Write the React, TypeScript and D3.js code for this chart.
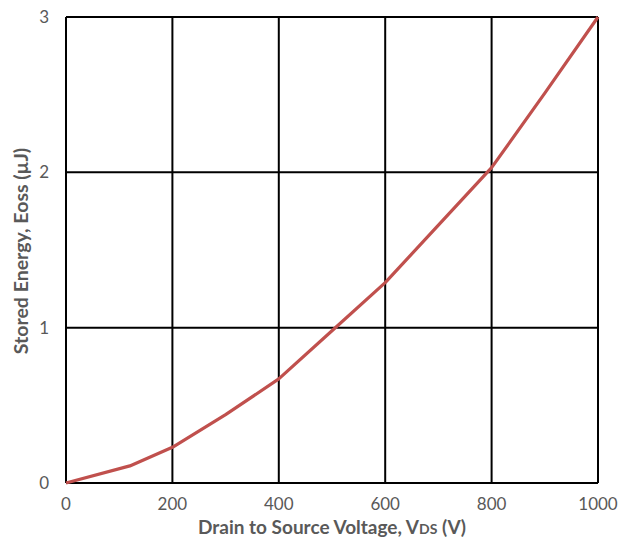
import React from "react";
import * as d3 from "d3";

const voltages = [0, 120, 200, 300, 400, 500, 600, 700, 800, 900, 1000];
const energy = [0, 0.11, 0.23, 0.44, 0.67, 0.98, 1.29, 1.66, 2.03, 2.51, 3.0];
const xTicks = [0, 200, 400, 600, 800, 1000];
const yTicks = [0, 1, 2, 3];

export default function App() {
  const W = 627, H = 540;
  const left = 66, right = 598, top = 17, bottom = 483;
  const x = d3.scaleLinear().domain([0, 1000]).range([left, right]);
  const y = d3.scaleLinear().domain([0, 3]).range([bottom, top]);
  const line = d3.line<number>().x((_, i) => x(voltages[i])).y((d) => y(d));
  const font = "Lato, 'Open Sans', sans-serif";
  return (
    <svg width={W} height={H} style={{ position: "absolute", left: 0, top: 0 }}>
      <rect width={W} height={H} fill="#fff" />
      {xTicks.map((t) => (
        <line key={"gx" + t} x1={x(t)} x2={x(t)} y1={top} y2={bottom} stroke="#000" strokeWidth={2} />
      ))}
      {yTicks.map((t) => (
        <line key={"gy" + t} x1={left} x2={right} y1={y(t)} y2={y(t)} stroke="#000" strokeWidth={2} />
      ))}
      <path d={line(energy) || ""} fill="none" stroke="#C0504D" strokeWidth={3.2} strokeLinejoin="round" />
      {xTicks.map((t) => (
        <text key={"tx" + t} x={x(t)} y={510} textAnchor="middle" fontFamily={font} fontSize={17} fill="#595959">{t}</text>
      ))}
      {yTicks.map((t) => (
        <text key={"ty" + t} x={49} y={y(t) + 6} textAnchor="end" fontFamily={font} fontSize={17} fill="#595959">{t}</text>
      ))}
      <text x={332} y={534} textAnchor="middle" fontFamily={font} fontSize={19} fontWeight="bold" fill="#595959">
        Drain to Source Voltage, V<tspan fontSize={14}>DS</tspan> (V)
      </text>
      <text transform="translate(28,251) rotate(-90)" textAnchor="middle" fontFamily={font} fontSize={19.5} fontWeight="bold" fill="#595959">
        Stored Energy, Eoss (µJ)
      </text>
    </svg>
  );
}
